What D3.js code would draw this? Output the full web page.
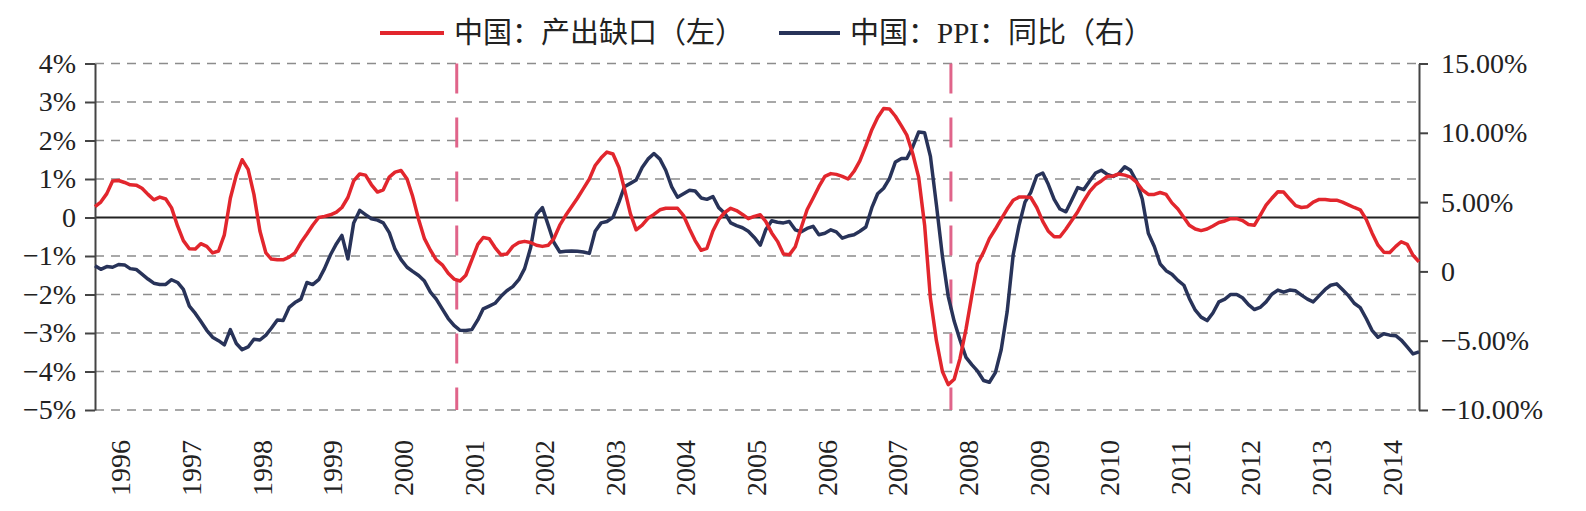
<!DOCTYPE html>
<html>
<head>
<meta charset="utf-8">
<script src="https://cdn.jsdelivr.net/npm/d3@7"></script>
<style>
  body { margin: 0; background: #fff; }
  svg text { font-family: "Liberation Serif", "Noto Sans CJK SC", serif; fill: #222; }
</style>
</head>
<body>
<div id="chart"></div>
<script>
// monthly data, first point 1995-09
const startMonth = new Date(1995, 8, 1);

// 中国：产出缺口 (%), left axis
const outputGap = [
  0.28, 0.40, 0.62, 0.95, 0.96, 0.91, 0.85, 0.84, 0.76, 0.60,
  0.46, 0.53, 0.48, 0.25, -0.22, -0.60, -0.81, -0.82, -0.68, -0.75,
  -0.92, -0.87, -0.45, 0.50, 1.10, 1.50, 1.25, 0.60, -0.35, -0.92,
  -1.08, -1.10, -1.10, -1.03, -0.92, -0.65, -0.43, -0.20, 0.00, 0.03,
  0.07, 0.14, 0.26, 0.52, 0.95, 1.13, 1.10, 0.85, 0.66, 0.72,
  1.05, 1.18, 1.22, 1.00, 0.55, -0.05, -0.55, -0.85, -1.10, -1.23,
  -1.45, -1.60, -1.65, -1.50, -1.10, -0.70, -0.52, -0.55, -0.78, -0.97,
  -0.95, -0.75, -0.65, -0.62, -0.65, -0.72, -0.75, -0.72, -0.55, -0.20,
  0.05, 0.28, 0.50, 0.75, 1.00, 1.35, 1.55, 1.70, 1.65, 1.30,
  0.75, 0.10, -0.32, -0.20, -0.02, 0.08, 0.20, 0.24, 0.24, 0.24,
  0.05, -0.30, -0.60, -0.85, -0.80, -0.35, -0.05, 0.13, 0.24, 0.18,
  0.08, -0.03, 0.03, 0.07, -0.10, -0.40, -0.62, -0.95, -0.97, -0.76,
  -0.26, 0.20, 0.50, 0.80, 1.07, 1.14, 1.12, 1.07, 1.00, 1.20,
  1.47, 1.86, 2.28, 2.60, 2.83, 2.82, 2.63, 2.38, 2.14, 1.65,
  1.05, -0.20, -2.10, -3.20, -4.00, -4.34, -4.20, -3.66, -2.90, -2.00,
  -1.20, -0.90, -0.55, -0.30, -0.04, 0.22, 0.45, 0.53, 0.53, 0.52,
  0.26, -0.10, -0.35, -0.50, -0.50, -0.30, -0.08, 0.15, 0.43, 0.67,
  0.85, 0.95, 1.07, 1.08, 1.13, 1.10, 1.05, 0.92, 0.72, 0.60,
  0.60, 0.65, 0.60, 0.38, 0.22, 0.00, -0.20, -0.30, -0.34, -0.30,
  -0.22, -0.13, -0.09, -0.03, -0.03, -0.08, -0.18, -0.20, 0.05, 0.32,
  0.50, 0.67, 0.66, 0.48, 0.31, 0.26, 0.28, 0.40, 0.47, 0.47,
  0.45, 0.45, 0.40, 0.33, 0.26, 0.20, -0.05, -0.40, -0.72, -0.90,
  -0.91, -0.75, -0.63, -0.70, -0.98, -1.15
];

// 中国：PPI：同比 (%), right axis
const ppiYoy = [
  0.41, 0.15, 0.35, 0.30, 0.50, 0.47, 0.20, 0.14, -0.20, -0.55,
  -0.85, -0.94, -0.94, -0.60, -0.80, -1.30, -2.50, -3.03, -3.60, -4.25,
  -4.75, -5.00, -5.30, -4.20, -5.20, -5.65, -5.45, -4.90, -4.95, -4.60,
  -4.10, -3.50, -3.55, -2.60, -2.25, -2.00, -0.80, -0.95, -0.60, 0.20,
  1.20, 2.00, 2.60, 0.90, 3.50, 4.40, 4.10, 3.80, 3.70, 3.50,
  2.80, 1.60, 0.85, 0.30, 0.00, -0.30, -0.70, -1.50, -2.00, -2.70,
  -3.40, -3.90, -4.25, -4.27, -4.20, -3.50, -2.70, -2.50, -2.30, -1.80,
  -1.40, -1.10, -0.60, 0.20, 1.70, 4.10, 4.60, 3.30, 2.10, 1.40,
  1.45, 1.47, 1.45, 1.40, 1.30, 2.90, 3.50, 3.60, 3.90, 5.00,
  6.10, 6.35, 6.60, 7.50, 8.10, 8.50, 8.10, 7.30, 6.10, 5.35,
  5.60, 5.85, 5.80, 5.30, 5.20, 5.40, 4.60, 4.20, 3.50, 3.30,
  3.15, 2.90, 2.45, 1.90, 3.00, 3.65, 3.55, 3.50, 3.60, 3.00,
  2.86, 3.10, 3.25, 2.65, 2.75, 3.00, 2.85, 2.40, 2.55, 2.65,
  2.90, 3.20, 4.60, 5.60, 6.00, 6.70, 7.90, 8.15, 8.15, 9.00,
  10.05, 10.00, 8.30, 4.80, 1.10, -1.80, -3.60, -4.95, -6.20, -6.75,
  -7.20, -7.87, -8.00, -7.30, -5.65, -2.90, 1.20, 3.30, 5.00, 5.70,
  6.90, 7.10, 6.30, 5.20, 4.50, 4.30, 5.15, 6.05, 5.90, 6.50,
  7.10, 7.30, 7.00, 6.85, 7.05, 7.55, 7.30, 6.50, 5.20, 2.75,
  1.80, 0.55, 0.05, -0.20, -0.65, -1.00, -1.95, -2.80, -3.30, -3.55,
  -3.00, -2.20, -2.00, -1.66, -1.66, -1.90, -2.40, -2.75, -2.60, -2.20,
  -1.65, -1.35, -1.50, -1.35, -1.40, -1.71, -2.00, -2.20, -1.75, -1.30,
  -1.00, -0.90, -1.30, -1.75, -2.30, -2.62, -3.40, -4.25, -4.75, -4.50,
  -4.60, -4.64, -4.95, -5.45, -5.95, -5.80
];

const leftTicks = [4, 3, 2, 1, 0, -1, -2, -3, -4, -5];
const leftTickLabels = ["4%", "3%", "2%", "1%", "0", "−1%", "−2%", "−3%", "−4%", "−5%"];
const rightTicks = [15, 10, 5, 0, -5, -10];
const rightTickLabels = ["15.00%", "10.00%", "5.00%", "0", "−5.00%", "−10.00%"];
const years = d3.range(1996, 2015);
// vertical markers (month of the dashed lines)
const markerMonths = [new Date(2000, 9, 15), new Date(2007, 9, 15)];
const seriesNames = ["中国：产出缺口（左）", "中国：PPI：同比（右）"];

const W = 1586, H = 511;
const plotLeft = 95, plotRight = 1419, plotTop = 63.5, plotBottom = 410;
const red = "#e2262d", navy = "#283359";

const svg = d3.select("#chart").append("svg")
  .attr("width", W).attr("height", H);

const dates = outputGap.map((d, i) => d3.timeMonth.offset(startMonth, i));

const x = d3.scaleTime()
  .domain([dates[0], dates[dates.length - 1]])
  .range([plotLeft, plotRight]);
const yL = d3.scaleLinear().domain([-5, 4]).range([plotBottom, plotTop]);
const yR = d3.scaleLinear().domain([-10, 15]).range([plotBottom, plotTop]);

// gridlines
svg.append("g").selectAll("line")
  .data(leftTicks)
  .enter().append("line")
  .attr("x1", plotLeft).attr("x2", plotRight)
  .attr("y1", d => yL(d)).attr("y2", d => yL(d))
  .attr("stroke", d => d === 0 ? "#222" : "#8c8c8c")
  .attr("stroke-width", d => d === 0 ? 2 : 1.5)
  .attr("stroke-dasharray", d => d === 0 ? null : "9,7");

// left axis
const axL = svg.append("g")
  .attr("transform", `translate(${plotLeft},0)`)
  .call(d3.axisLeft(yL).tickValues(leftTicks).tickSize(10).tickSizeOuter(0)
    .tickFormat((d, i) => leftTickLabels[i]).tickPadding(9));
// right axis
const axR = svg.append("g")
  .attr("transform", `translate(${plotRight},0)`)
  .call(d3.axisRight(yR).tickValues(rightTicks).tickSize(9).tickSizeOuter(0)
    .tickFormat((d, i) => rightTickLabels[i]).tickPadding(13));

[axL, axR].forEach(ax => {
  ax.select(".domain").attr("stroke", "#444").attr("stroke-width", 2);
  ax.selectAll(".tick line").attr("stroke", "#444").attr("stroke-width", 2);
  ax.selectAll(".tick text")
    .attr("font-size", 28)
    .attr("font-family", "Liberation Serif")
    .attr("fill", "#222");
});

// year labels
svg.append("g").selectAll("text")
  .data(years)
  .enter().append("text")
  .attr("transform", d => `translate(${x(new Date(d, 0, 1)) + 2},440) rotate(-90)`)
  .attr("text-anchor", "end")
  .attr("dy", "0.35em")
  .attr("font-size", 28)
  .text(d => d);

// vertical dashed markers
svg.append("g").selectAll("line")
  .data(markerMonths)
  .enter().append("line")
  .attr("x1", d => x(d)).attr("x2", d => x(d))
  .attr("y1", plotTop).attr("y2", plotBottom)
  .attr("stroke", "#e0648a")
  .attr("stroke-width", 3)
  .attr("stroke-dasharray", "30,24");

// lines
const lineL = d3.line().x((d, i) => x(dates[i])).y(d => yL(d));
const lineR = d3.line().x((d, i) => x(dates[i])).y(d => yR(d));

svg.append("path")
  .datum(ppiYoy)
  .attr("fill", "none")
  .attr("stroke", navy)
  .attr("stroke-width", 3.5)
  .attr("stroke-linejoin", "round")
  .attr("d", lineR);

svg.append("path")
  .datum(outputGap)
  .attr("fill", "none")
  .attr("stroke", red)
  .attr("stroke-width", 3.5)
  .attr("stroke-linejoin", "round")
  .attr("d", lineL);

// legend
const legend = [
  { name: seriesNames[0], color: red, x1: 380, x2: 444, tx: 454 },
  { name: seriesNames[1], color: navy, x1: 779, x2: 840, tx: 850 }
];
const lg = svg.append("g");
legend.forEach(l => {
  lg.append("line")
    .attr("x1", l.x1).attr("x2", l.x2)
    .attr("y1", 33).attr("y2", 33)
    .attr("stroke", l.color).attr("stroke-width", 4);
  lg.append("text")
    .attr("x", l.tx).attr("y", 33)
    .attr("dy", "0.36em")
    .attr("font-size", 29)
    .text(l.name);
});
</script>
</body>
</html>
